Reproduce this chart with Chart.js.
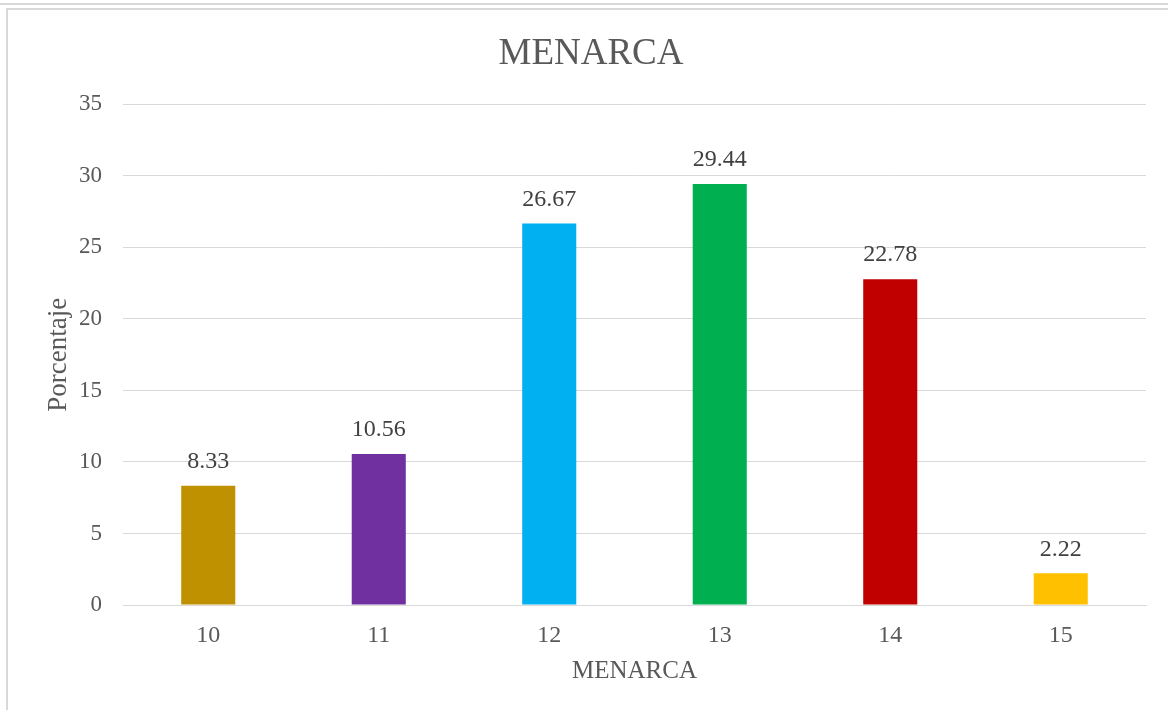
<!DOCTYPE html>
<html>
<head>
<meta charset="utf-8">
<script src="https://cdn.jsdelivr.net/npm/chart.js@4"></script>
<style>
  body { margin: 0; background: #fff; }
  #lineaTop { position: absolute; left: 0; top: 3px; width: 1168px; height: 0; border-top: 2px solid #d9d9d9; }
  #marco { position: absolute; left: 6px; top: 8px; width: 1170px; height: 710px; border-top: 2px solid #d9d9d9; border-left: 2px solid #d9d9d9; }
  #caja { position: absolute; left: 0; top: 0; width: 1168px; height: 710px; }
</style>
</head>
<body>
<div id="lineaTop"></div>
<div id="marco"></div>
<div id="caja"><canvas id="grafico" width="1168" height="710"></canvas></div>
<script>
// datos
const edades = ['10', '11', '12', '13', '14', '15'];
const porcentajes = [8.33, 10.56, 26.67, 29.44, 22.78, 2.22];
const colores = ['#BF9000', '#7030A0', '#00B0F0', '#00B050', '#C00000', '#FFC000'];
const ticksY = [0, 5, 10, 15, 20, 25, 30, 35];

const fuente = "'Liberation Serif', 'Times New Roman', serif";

// etiquetas encima de cada barra
const etiquetas = {
    id: 'etiquetas',
    afterDatasetsDraw(chart) {
        const ctx = chart.ctx;
        const meta = chart.getDatasetMeta(0);
        ctx.save();
        ctx.font = `24px ${fuente}`;
        ctx.fillStyle = '#404040';
        ctx.textAlign = 'center';
        ctx.textBaseline = 'middle';
        meta.data.forEach((barra, i) => {
            ctx.fillText(porcentajes[i].toFixed(2), barra.x, barra.y - 24);
        });
        ctx.restore();
    }
};

const config = {
    type: 'bar',
    data: {
        labels: edades,
        datasets: [{
            label: 'Porcentaje',
            data: porcentajes,
            backgroundColor: colores,
            borderWidth: 0,
            categoryPercentage: 1,
            barPercentage: 0.317
        }]
    },
    options: {
        responsive: false,
        animation: false,
        layout: { padding: { left: 36, right: 22, top: 0, bottom: 24 } },
        plugins: {
            legend: { display: false },
            tooltip: { enabled: false },
            title: {
                display: true,
                text: 'MENARCA',
                color: '#595959',
                font: { family: fuente, size: 37, weight: 'normal' },
                padding: { top: 32, bottom: 28 }
            }
        },
        scales: {
            x: {
                grid: { display: false, drawTicks: false },
                border: { display: true, color: '#d9d9d9', width: 1 },
                ticks: { color: '#595959', font: { family: fuente, size: 24 }, padding: 16 },
                title: { display: true, text: 'MENARCA', color: '#595959', font: { family: fuente, size: 25 }, padding: { top: 0, bottom: 0 } },
                afterFit(scale) { scale.height = 81; }
            },
            y: {
                min: 0,
                max: 35,
                afterBuildTicks(scale) { scale.ticks = ticksY.map(v => ({ value: v })); },
                grid: { color: '#d9d9d9', lineWidth: 1, drawTicks: false },
                border: { display: false },
                ticks: { color: '#595959', font: { family: fuente, size: 23 }, padding: 21 },
                title: { display: true, text: 'Porcentaje', color: '#595959', font: { family: fuente, size: 27 }, padding: { top: 7, bottom: 0 } },
                afterFit(scale) { scale.width = 87; }
            }
        }
    },
    plugins: [etiquetas]
};

new Chart(document.getElementById('grafico'), config);
</script>
</body>
</html>
